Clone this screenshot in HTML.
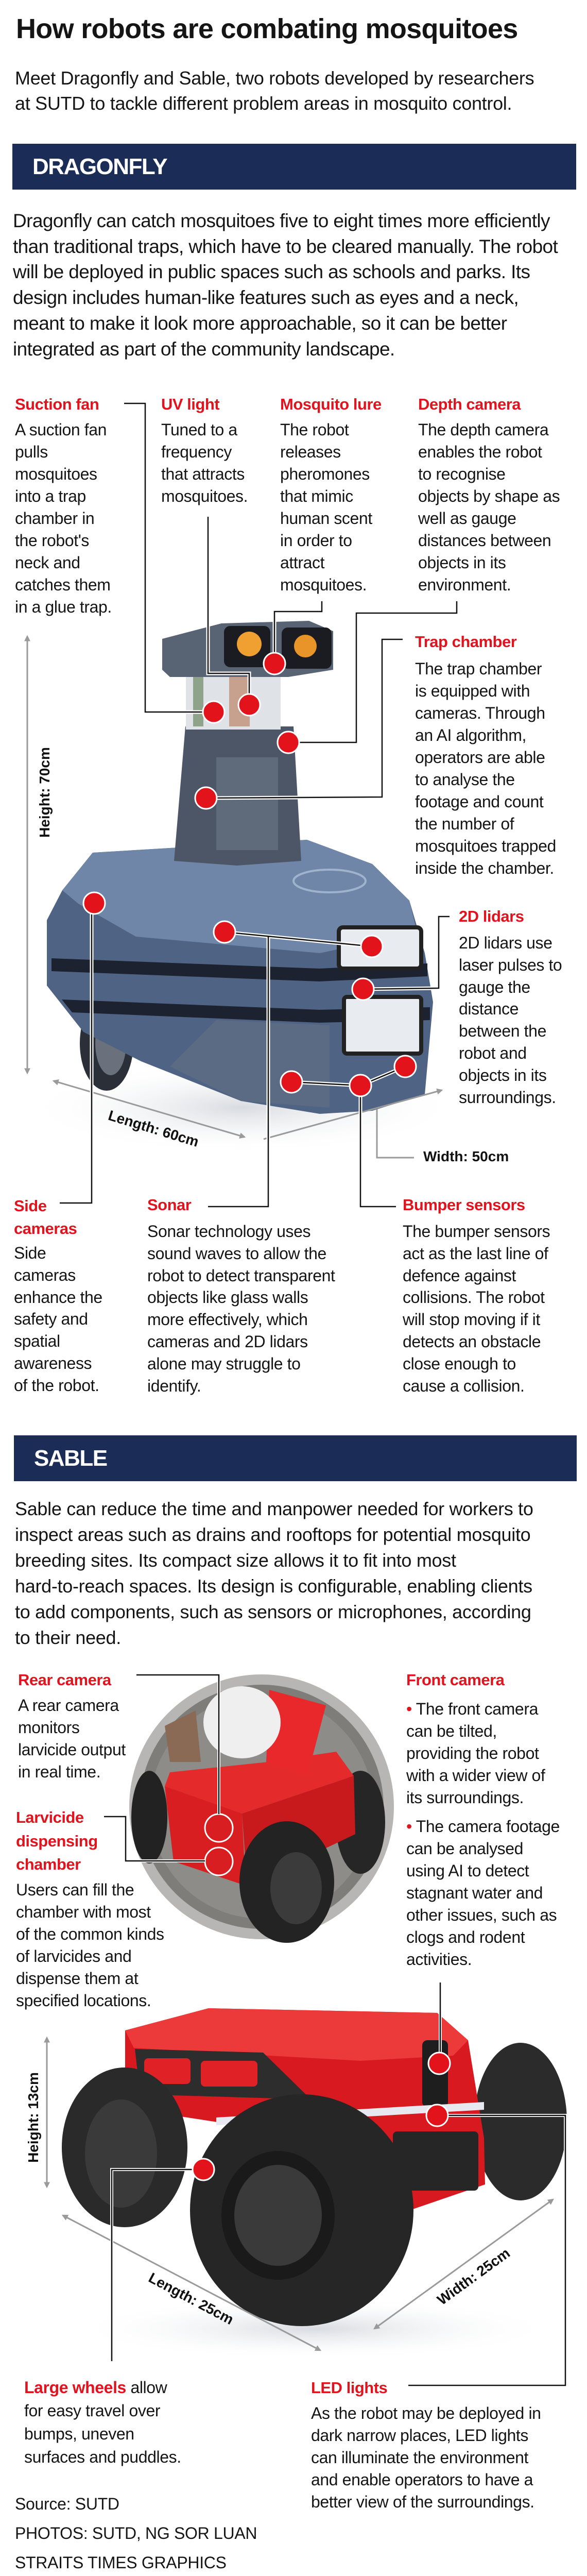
<!DOCTYPE html>
<html><head><meta charset="utf-8">
<style>
*{margin:0;padding:0;box-sizing:border-box}
html{width:1140px;height:5049px;overflow:hidden}
body{width:1140px;height:5049px;position:relative;background:#fff;font-family:"Liberation Sans",sans-serif;color:#151515;overflow:hidden}
.a{position:absolute;white-space:nowrap}
.t{font-size:32px;line-height:43px;letter-spacing:-0.4px}
.r{color:#e0141e;font-weight:bold;font-size:31px;line-height:40px;letter-spacing:-0.5px}
.bar{position:absolute;left:24px;width:1095px;height:89px;background:#1b2c57;color:#fff;font-weight:bold;font-size:44px;letter-spacing:-1.5px;padding-left:39px;line-height:89px}
.p{font-size:37px;line-height:49.7px;letter-spacing:-0.6px}
.dim{font-weight:bold;font-size:28px;color:#111}
</style></head><body>
<svg class="a" style="left:0;top:0;display:block" width="1140" height="5049" viewBox="0 0 1140 5049">
<defs>
<radialGradient id="sh" cx="50%" cy="50%" r="50%"><stop offset="0" stop-color="#d8dbe0"/><stop offset="1" stop-color="#fff" stop-opacity="0"/></radialGradient>
<marker id="ah" viewBox="0 0 10 10" refX="8" refY="5" markerWidth="4" markerHeight="4" orient="auto-start-reverse"><path d="M0,0L10,5L0,10z" fill="#9a9a9a"/></marker>
</defs>
<ellipse cx="470" cy="2150" rx="420" ry="90" fill="url(#sh)"/>
<ellipse cx="207" cy="2025" rx="52" ry="92" fill="#2a2f38"/>
<ellipse cx="215" cy="2025" rx="30" ry="62" fill="#6a717c"/>
<polygon points="121,1728 180,1655 596,1630 723,1677 795,1748 825,1850 841,1945 825,2124 723,2156 621,2162 468,2137 274,2060 162,2003 91,1913 91,1786" fill="#4f6384"/>
<polygon points="121,1728 180,1655 596,1630 723,1677 795,1748 810,1810 621,1850 264,1818 152,1754" fill="#6f86a8"/>
<polygon points="100,1860 620,1880 830,1870 830,1895 620,1905 100,1885" fill="#1c2230"/>
<polygon points="120,1940 620,1960 835,1955 835,1980 620,1985 140,1965" fill="#1c2230"/>
<polygon points="420,1980 640,1990 640,2150 468,2137 330,2070" fill="#5b6b84"/>
<rect x="658" y="1800" width="160" height="80" rx="8" fill="#e8ecf0" stroke="#222" stroke-width="8"/>
<rect x="668" y="1935" width="150" height="110" rx="6" fill="#e8ecf0" stroke="#222" stroke-width="8"/>
<ellipse cx="640" cy="1710" rx="70" ry="22" fill="none" stroke="#9fb3cc" stroke-width="4"/>
<polygon points="338,1671 360,1410 570,1410 585,1671 460,1680" fill="#4c5666"/>
<rect x="420" y="1470" width="120" height="180" fill="#5f6a7a"/>
<rect x="361" y="1304" width="184" height="112" fill="#dfe3e8"/>
<rect x="375" y="1310" width="20" height="100" fill="#8fa38a"/>
<rect x="445" y="1310" width="40" height="100" fill="#c7a08e"/>
<polygon points="315,1240 430,1210 600,1205 647,1225 647,1300 560,1314 330,1314 315,1300" fill="#586374"/>
<rect x="435" y="1215" width="90" height="80" rx="12" fill="#1a1c22"/>
<rect x="547" y="1218" width="97" height="80" rx="12" fill="#1a1c22"/>
<circle cx="484" cy="1250" r="24" fill="#f0a030"/>
<circle cx="593" cy="1254" r="22" fill="#e89428"/>
<line x1="53" y1="1235" x2="53" y2="2083" stroke="#9a9a9a" stroke-width="3" marker-start="url(#ah)" marker-end="url(#ah)"/>
<line x1="104" y1="2098" x2="475" y2="2207" stroke="#9a9a9a" stroke-width="3" marker-start="url(#ah)" marker-end="url(#ah)"/>
<line x1="512" y1="2211" x2="858" y2="2116" stroke="#9a9a9a" stroke-width="3" marker-end="url(#ah)"/>
<polyline points="732,2153 732,2247 804,2247" fill="none" stroke="#9a9a9a" stroke-width="3"/>
<g fill="none" stroke="#fff" stroke-width="7">
<polyline points="241,783 282,783 282,1382 415,1382"/>
<polyline points="404,1003 404,1307 484,1307 484,1368"/>
<polyline points="625,1167 625,1187 533,1187 533,1288"/>
<polyline points="887,1167 887,1190 692,1190 692,1441 560,1441"/>
<polyline points="782,1241 742,1241 742,1547 400,1549"/>
<polyline points="873,1779 852,1779 852,1918 705,1920"/>
<polyline points="436,1809 722,1837"/>
<polyline points="521,1818 521,2342 404,2342"/>
<polyline points="178,1753 178,2335 116,2335"/>
<polyline points="566,2100 700,2107 787,2070"/>
<polyline points="700,2107 700,2342 769,2342"/>
</g>
<g fill="none" stroke="#111" stroke-width="2.5">
<polyline points="241,783 282,783 282,1382 415,1382"/>
<polyline points="404,1003 404,1307 484,1307 484,1368"/>
<polyline points="625,1167 625,1187 533,1187 533,1288"/>
<polyline points="887,1167 887,1190 692,1190 692,1441 560,1441"/>
<polyline points="782,1241 742,1241 742,1547 400,1549"/>
<polyline points="873,1779 852,1779 852,1918 705,1920"/>
<polyline points="436,1809 722,1837"/>
<polyline points="521,1818 521,2342 404,2342"/>
<polyline points="178,1753 178,2335 116,2335"/>
<polyline points="566,2100 700,2107 787,2070"/>
<polyline points="700,2107 700,2342 769,2342"/>
</g>
<g fill="#e3131b" stroke="#fff" stroke-width="3">
<circle cx="415" cy="1382" r="21"/><circle cx="484" cy="1368" r="21"/><circle cx="533" cy="1288" r="21"/>
<circle cx="560" cy="1441" r="21"/><circle cx="400" cy="1549" r="21"/><circle cx="183" cy="1753" r="21"/>
<circle cx="436" cy="1809" r="21"/><circle cx="722" cy="1837" r="21"/><circle cx="705" cy="1920" r="21"/>
<circle cx="566" cy="2100" r="21"/><circle cx="700" cy="2107" r="21"/><circle cx="787" cy="2070" r="21"/>
</g>
<circle cx="508" cy="3507" r="237" fill="#8d8c88"/>
<circle cx="508" cy="3507" r="237" fill="none" stroke="#6f6e6a" stroke-width="40" opacity="0.5"/>
<ellipse cx="290" cy="3527" rx="35" ry="90" fill="#222"/>
<ellipse cx="700" cy="3537" rx="48" ry="100" fill="#262626"/>
<polygon points="320,3467 470,3520 687,3447 653,3400 520,3420 330,3440" fill="#e42a2a"/>
<polygon points="320,3467 470,3520 477,3660 337,3613" fill="#d81e20"/>
<polygon points="470,3520 687,3447 690,3560 480,3660" fill="#c81a1c"/>
<polygon points="523,3280 633,3310 597,3447 517,3420" fill="#e8282a"/>
<ellipse cx="470" cy="3343" rx="75" ry="70" fill="#efefef"/>
<polygon points="320,3350 380,3320 390,3420 330,3420" fill="#8a6a55"/>
<ellipse cx="557" cy="3653" rx="92" ry="118" fill="#232323"/>
<ellipse cx="575" cy="3665" rx="50" ry="70" fill="#3b3b3b"/>
<g fill="none" stroke="#fff" stroke-width="3"><circle cx="425" cy="3548" r="27"/><circle cx="425" cy="3613" r="27"/></g>
<g fill="none" stroke="#fff" stroke-width="6"><polyline points="265,3251 425,3251 425,3521"/><polyline points="202,3526 244,3526 244,3612 398,3612"/></g>
<g fill="none" stroke="#111" stroke-width="2.5"><polyline points="265,3251 425,3251 425,3521"/><polyline points="202,3526 244,3526 244,3612 398,3612"/></g>
<ellipse cx="610" cy="4520" rx="470" ry="60" fill="url(#sh)"/>
<ellipse cx="1011" cy="4118" rx="90" ry="153" fill="#2b2b2b"/>
<polygon points="243,3941 405,3898 849,3907 909,3960 940,4150 942,4240 796,4290 620,4150 300,4100 243,4050" fill="#d8191f"/>
<polygon points="243,3941 405,3898 849,3907 909,3960 880,3990 700,4000 260,3975" fill="#ec3a3a"/>
<polygon points="262,3977 511,3984 604,4075 272,4065" fill="#2d2d2d"/>
<rect x="280" y="3995" width="90" height="50" rx="8" fill="#e02226"/>
<rect x="390" y="4000" width="110" height="50" rx="8" fill="#e02226"/>
<rect x="820" y="3960" width="50" height="130" rx="10" fill="#1e1e1e"/>
<rect x="763" y="4137" width="166" height="115" rx="8" fill="#262626"/>
<polygon points="420,4110 940,4080 940,4095 420,4125" fill="#e8e8f0"/>
<ellipse cx="242" cy="4168" rx="122" ry="155" fill="#2a2a2a"/>
<ellipse cx="235" cy="4180" rx="70" ry="105" fill="#3a3a3a"/>
<ellipse cx="586" cy="4290" rx="217" ry="225" fill="#262626"/>
<ellipse cx="540" cy="4300" rx="110" ry="125" fill="#1a1a1a"/>
<ellipse cx="540" cy="4300" rx="85" ry="98" fill="#3a3a3a"/>
<line x1="91" y1="3955" x2="91" y2="4245" stroke="#9a9a9a" stroke-width="3" marker-start="url(#ah)" marker-end="url(#ah)"/>
<line x1="122" y1="4300" x2="622" y2="4562" stroke="#9a9a9a" stroke-width="3" marker-start="url(#ah)" marker-end="url(#ah)"/>
<line x1="727" y1="4520" x2="1074" y2="4269" stroke="#9a9a9a" stroke-width="3" marker-start="url(#ah)" marker-end="url(#ah)"/>
<g fill="none" stroke="#fff" stroke-width="6"><polyline points="855,3848 855,4005"/><polyline points="849,4106 1098,4106 1098,4630 793,4630"/><polyline points="395,4211 217,4211 217,4583"/></g>
<g fill="none" stroke="#111" stroke-width="2.5"><polyline points="855,3848 855,4005"/><polyline points="849,4106 1098,4106 1098,4630 793,4630"/><polyline points="395,4211 217,4211 217,4583"/></g>
<g fill="#e3131b" stroke="#fff" stroke-width="3"><circle cx="853" cy="4005" r="21"/><circle cx="849" cy="4106" r="21"/><circle cx="395" cy="4211" r="21"/></g>
</svg>

<div class="a" style="left:31px;top:26px;font-size:54px;line-height:60px;font-weight:bold;letter-spacing:-0.7px">How robots are combating mosquitoes</div>
<div class="a" style="left:29px;top:127px;font-size:36px;line-height:49px;letter-spacing:-0.3px">Meet Dragonfly and Sable, two robots developed by researchers<br>at SUTD to tackle different problem areas in mosquito control.</div>
<div class="bar" style="top:279px">DRAGONFLY</div>
<div class="a p" style="left:25px;top:404px">Dragonfly can catch mosquitoes five to eight times more efficiently<br>than traditional traps, which have to be cleared manually. The robot<br>will be deployed in public spaces such as schools and parks. Its<br>design includes human-like features such as eyes and a neck,<br>meant to make it look more approachable, so it can be better<br>integrated as part of the community landscape.</div>

<div class="a r" style="left:29px;top:765px">Suction fan</div>
<div class="a t" style="left:29px;top:813px">A suction fan<br>pulls<br>mosquitoes<br>into a trap<br>chamber in<br>the robot's<br>neck and<br>catches them<br>in a glue trap.</div>
<div class="a r" style="left:313px;top:765px">UV light</div>
<div class="a t" style="left:313px;top:813px">Tuned to a<br>frequency<br>that attracts<br>mosquitoes.</div>
<div class="a r" style="left:544px;top:765px">Mosquito lure</div>
<div class="a t" style="left:544px;top:813px">The robot<br>releases<br>pheromones<br>that mimic<br>human scent<br>in order to<br>attract<br>mosquitoes.</div>
<div class="a r" style="left:812px;top:765px">Depth camera</div>
<div class="a t" style="left:812px;top:813px">The depth camera<br>enables the robot<br>to recognise<br>objects by shape as<br>well as gauge<br>distances between<br>objects in its<br>environment.</div>
<div class="a r" style="left:806px;top:1226px">Trap chamber</div>
<div class="a t" style="left:806px;top:1277px">The trap chamber<br>is equipped with<br>cameras. Through<br>an AI algorithm,<br>operators are able<br>to analyse the<br>footage and count<br>the number of<br>mosquitoes trapped<br>inside the chamber.</div>
<div class="a r" style="left:891px;top:1759px">2D lidars</div>
<div class="a t" style="left:891px;top:1809px;line-height:42.8px">2D lidars use<br>laser pulses to<br>gauge the<br>distance<br>between the<br>robot and<br>objects in its<br>surroundings.</div>
<div class="a dim" style="left:87px;top:1538px;transform:translate(-50%,-50%) rotate(-90deg)">Height: 70cm</div>
<div class="a dim" style="left:298px;top:2191px;transform:translate(-50%,-50%) rotate(17deg)">Length: 60cm</div>
<div class="a dim" style="left:822px;top:2229px">Width: 50cm</div>

<div class="a r" style="left:27px;top:2319px;line-height:44px">Side<br>cameras</div>
<div class="a t" style="left:27px;top:2411px;line-height:42.8px">Side<br>cameras<br>enhance the<br>safety and<br>spatial<br>awareness<br>of the robot.</div>
<div class="a r" style="left:286px;top:2319px">Sonar</div>
<div class="a t" style="left:286px;top:2369px;line-height:42.8px">Sonar technology uses<br>sound waves to allow the<br>robot to detect transparent<br>objects like glass walls<br>more effectively, which<br>cameras and 2D lidars<br>alone may struggle to<br>identify.</div>
<div class="a r" style="left:782px;top:2319px">Bumper sensors</div>
<div class="a t" style="left:782px;top:2369px;line-height:42.8px">The bumper sensors<br>act as the last line of<br>defence against<br>collisions. The robot<br>will stop moving if it<br>detects an obstacle<br>close enough to<br>cause a collision.</div>

<div class="bar" style="top:2786px;left:27px;width:1093px">SABLE</div>
<div class="a" style="left:29px;top:2904px;font-size:36px;line-height:50px;letter-spacing:-0.3px">Sable can reduce the time and manpower needed for workers to<br>inspect areas such as drains and rooftops for potential mosquito<br>breeding sites. Its compact size allows it to fit into most<br>hard-to-reach spaces. Its design is configurable, enabling clients<br>to add components, such as sensors or microphones, according<br>to their need.</div>

<div class="a r" style="left:35px;top:3241px">Rear camera</div>
<div class="a t" style="left:35px;top:3289px">A rear camera<br>monitors<br>larvicide output<br>in real time.</div>
<div class="a r" style="left:31px;top:3505px;line-height:45.5px">Larvicide<br>dispensing<br>chamber</div>
<div class="a t" style="left:31px;top:3647px">Users can fill the<br>chamber with most<br>of the common kinds<br>of larvicides and<br>dispense them at<br>specified locations.</div>
<div class="a r" style="left:789px;top:3241px">Front camera</div>
<div class="a t" style="left:789px;top:3296px"><span style="color:#e0141e">•</span> The front camera<br>can be tilted,<br>providing the robot<br>with a wider view of<br>its surroundings.</div>
<div class="a t" style="left:789px;top:3524px"><span style="color:#e0141e">•</span> The camera footage<br>can be analysed<br>using AI to detect<br>stagnant water and<br>other issues, such as<br>clogs and rodent<br>activities.</div>

<div class="a dim" style="left:65px;top:4110px;transform:translate(-50%,-50%) rotate(-90deg)">Height: 13cm</div>
<div class="a dim" style="left:371px;top:4462px;transform:translate(-50%,-50%) rotate(28deg)">Length: 25cm</div>
<div class="a dim" style="left:920px;top:4419px;transform:translate(-50%,-50%) rotate(-36deg)">Width: 25cm</div>

<div class="a t" style="left:47px;top:4612px;line-height:45px"><span style="color:#e0141e;font-weight:bold">Large wheels</span> allow<br>for easy travel over<br>bumps, uneven<br>surfaces and puddles.</div>
<div class="a r" style="left:604px;top:4615px">LED lights</div>
<div class="a t" style="left:604px;top:4663px">As the robot may be deployed in<br>dark narrow places, LED lights<br>can illuminate the environment<br>and enable operators to have a<br>better view of the surroundings.</div>

<div class="a" style="left:29px;top:4832px;font-size:32px;line-height:57px;letter-spacing:-0.3px">Source: SUTD<br>PHOTOS: SUTD, NG SOR LUAN<br>STRAITS TIMES GRAPHICS</div>
</body></html>
